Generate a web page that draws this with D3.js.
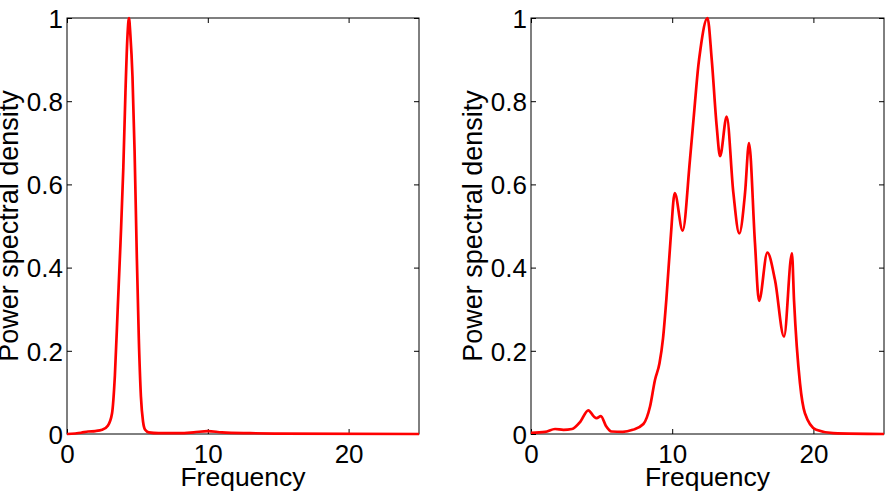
<!DOCTYPE html>
<html>
<head>
  <meta charset="utf-8">
  <title>Power spectral density</title>
  <style>
    body { margin: 0; background: #fff; }
    text { font-family: "Liberation Sans", Arial, sans-serif; fill: #000; }
  </style>
</head>
<body>
  <svg width="889" height="498"></svg>
  <script src="https://d3js.org/d3.v7.min.js"></script>
  <script>
    // data
    var xTicks = [0, 10, 20];
    var yTicks = [0, 0.2, 0.4, 0.6, 0.8, 1];

    var leftFreq  = [0, 1, 1.5, 2, 2.5, 2.9, 3.2, 3.4, 3.6, 3.8, 4.0, 4.15, 4.3, 4.4, 4.5, 4.65, 4.8, 4.95, 5.1, 5.25, 5.4, 5.55, 5.8, 6.5, 8, 9, 10, 11, 13, 15, 25];
    var leftPower = [0, 0.003, 0.006, 0.007, 0.01, 0.02, 0.05, 0.14, 0.3, 0.46, 0.64, 0.82, 0.96, 1.0, 0.96, 0.86, 0.68, 0.44, 0.23, 0.09, 0.03, 0.01, 0.004, 0.002, 0.002, 0.004, 0.007, 0.004, 0.002, 0.001, 0];

    var rightFreq  = [0, 1, 1.7, 2.3, 2.9, 3.5, 4.06, 4.45, 4.65, 4.95, 5.3, 5.7, 6.5, 7.2, 7.96, 8.43, 8.78, 9.1, 9.35, 9.6, 9.89, 10.18, 10.74, 11.26, 11.57, 11.85, 12.0, 12.5, 12.8, 13.15, 13.39, 13.86, 14.33, 14.75, 15.16, 15.44, 15.86, 16.15, 16.74, 17.28, 17.92, 18.48, 18.63, 19.05, 19.4, 20.2, 21.4, 25];
    var rightPower = [0.003, 0.005, 0.012, 0.01, 0.012, 0.03, 0.057, 0.042, 0.038, 0.043, 0.02, 0.006, 0.005, 0.01, 0.024, 0.066, 0.13, 0.17, 0.23, 0.33, 0.47, 0.579, 0.489, 0.66, 0.78, 0.885, 0.925, 1.0, 0.9, 0.74, 0.668, 0.763, 0.58, 0.482, 0.58, 0.699, 0.46, 0.32, 0.436, 0.37, 0.234, 0.434, 0.32, 0.122, 0.05, 0.01, 0.002, 0];

    var svg = d3.select("svg");
    var plotTop = 18, plotBottom = 434;

    var panels = [
      { x0: 67, x1: 419, freq: leftFreq, power: leftPower },
      { x0: 531, x1: 884, freq: rightFreq, power: rightPower }
    ];

    var y = d3.scaleLinear().domain([0, 1]).range([plotBottom, plotTop]);
    var fmt = function (d) { return d3.format("")(+d.toFixed(1)); };

    panels.forEach(function (p) {
      var x = d3.scaleLinear().domain([0, 25]).range([p.x0, p.x1]);
      var g = svg.append("g");
      var pts = p.freq.map(function (f, i) { return [f, p.power[i]]; });

      // ticks pointing inward on all four sides
      var ax = d3.axisBottom(x).tickValues(xTicks).tickSize(5).tickFormat(fmt);
      var axTop = d3.axisTop(x).tickValues(xTicks).tickSize(5).tickFormat("");
      var ay = d3.axisLeft(y).tickValues(yTicks).tickSize(5).tickFormat(fmt);
      var ayR = d3.axisRight(y).tickValues(yTicks).tickSize(5).tickFormat("");

      var gb = g.append("g").attr("transform", "translate(0," + plotBottom + ")").call(ax);
      gb.selectAll(".tick line").attr("y2", -5);
      gb.selectAll(".tick text").attr("y", 29).attr("dy", null);
      var gt = g.append("g").attr("transform", "translate(0," + plotTop + ")").call(axTop);
      gt.selectAll(".tick line").attr("y2", 5);
      var gl = g.append("g").attr("transform", "translate(" + p.x0 + ",0)").call(ay);
      gl.selectAll(".tick line").attr("x2", 5);
      gl.selectAll(".tick text").attr("x", -4).attr("dy", "0.36em");
      var gr = g.append("g").attr("transform", "translate(" + p.x1 + ",0)").call(ayR);
      gr.selectAll(".tick line").attr("x2", -5);

      g.selectAll(".domain").remove();
      g.selectAll("g").attr("font-family", null).attr("font-size", null);
      g.selectAll(".tick text").attr("font-size", 26);
      g.selectAll(".tick line").attr("stroke", "#000");

      g.append("rect")
        .attr("x", p.x0).attr("y", plotTop)
        .attr("width", p.x1 - p.x0).attr("height", plotBottom - plotTop)
        .attr("fill", "none").attr("stroke", "#000").attr("stroke-width", 1);

      var line = d3.line()
        .x(function (d) { return x(d[0]); })
        .y(function (d) { return y(d[1]); })
        .curve(d3.curveMonotoneX);

      g.append("path")
        .datum(pts)
        .attr("d", line)
        .attr("fill", "none")
        .attr("stroke", "#ff0000")
        .attr("stroke-width", 2.7)
        .attr("stroke-linejoin", "round");

      g.append("text")
        .attr("x", (p.x0 + p.x1) / 2).attr("y", 486)
        .attr("text-anchor", "middle").attr("font-size", 26.5)
        .text("Frequency");

      g.append("text")
        .attr("transform", "translate(" + (p.x0 - 49) + "," + ((plotTop + plotBottom) / 2) + ") rotate(-90)")
        .attr("text-anchor", "middle").attr("font-size", 27)
        .text("Power spectral density");
    });
  </script>
</body>
</html>
